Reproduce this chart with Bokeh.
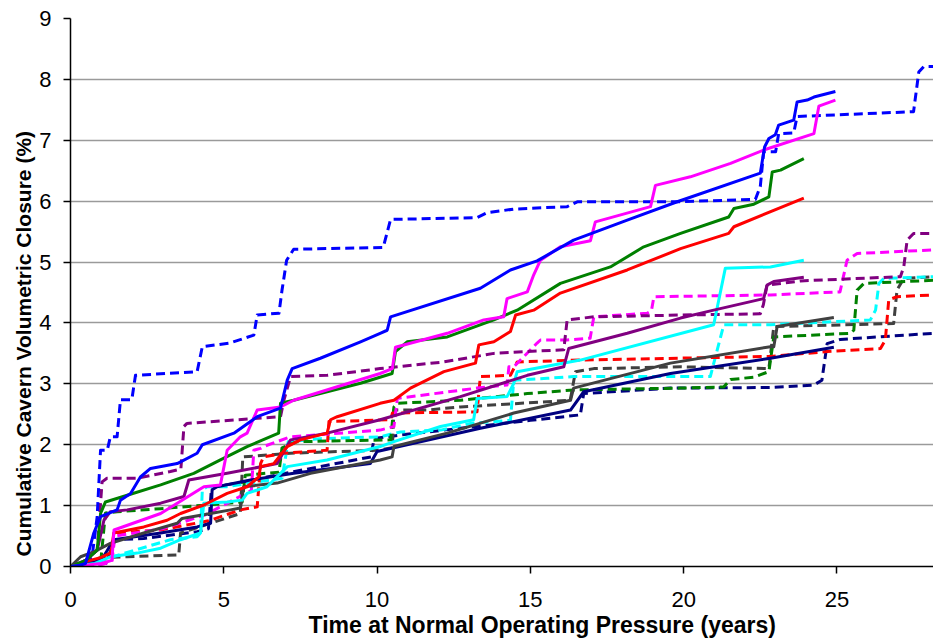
from bokeh.plotting import figure
from bokeh.models import Range1d, FixedTicker, Title
from bokeh.embed import file_html
from bokeh.resources import INLINE

# ---------------- data (years, % closure) ----------------
blue_solid_x = [0, 0.3, 0.49, 0.76, 0.98, 1.52, 1.63, 1.96, 2.28, 2.61, 3.48, 4.13, 4.3, 5.33, 6.09, 6.85, 7.07, 7.23, 8.15, 9.46, 10.1, 10.33, 10.44, 13.37, 14.35, 15.22, 16.41, 18.16, 19.79, 22.5, 22.64, 22.78, 22.99, 23.1, 23.59, 23.7, 24.03, 24.25, 24.95]
blue_solid_y = [0, 0.02, 0.05, 0.55, 0.82, 0.93, 1.09, 1.2, 1.47, 1.61, 1.69, 1.86, 2.0, 2.19, 2.46, 2.6, 3.06, 3.25, 3.42, 3.69, 3.83, 3.88, 4.1, 4.57, 4.87, 5.02, 5.36, 5.69, 5.99, 6.46, 6.89, 7.03, 7.09, 7.25, 7.33, 7.63, 7.66, 7.71, 7.8]

blue_dash_x = [0, 0.5, 0.7, 0.87, 0.98, 1.2, 1.3, 1.52, 1.63, 2.0, 2.12, 4.13, 4.3, 5.2, 5.98, 6.09, 6.8, 6.9, 7.05, 7.28, 10.2, 10.44, 13.26, 13.59, 14.46, 16.2, 16.53, 19.79, 22.34, 22.5, 22.61, 23.0, 23.1, 23.59, 23.7, 27.5, 27.67, 27.83, 28.15]
blue_dash_y = [0, 0.1, 0.15, 0.82, 1.91, 1.91, 2.13, 2.13, 2.74, 2.74, 3.14, 3.2, 3.61, 3.67, 3.8, 4.13, 4.16, 4.54, 5.03, 5.21, 5.24, 5.7, 5.73, 5.81, 5.87, 5.91, 5.99, 5.99, 6.03, 6.24, 6.81, 6.81, 7.11, 7.12, 7.39, 7.47, 8.12, 8.21, 8.21]

magenta_solid_x = [0, 0.5, 1.0, 1.35, 1.42, 2.94, 4.35, 4.89, 5.11, 5.54, 5.76, 6.09, 6.85, 7.28, 10.1, 10.5, 10.6, 12.29, 13.48, 14.13, 14.24, 14.9, 15.11, 15.33, 15.98, 16.96, 17.12, 18.92, 19.08, 20.22, 21.53, 22.61, 24.25, 24.41, 24.95]
magenta_solid_y = [0, 0.02, 0.05, 0.1, 0.6, 0.87, 1.31, 1.34, 1.91, 2.13, 2.19, 2.57, 2.62, 2.73, 3.17, 3.25, 3.6, 3.83, 4.05, 4.1, 4.4, 4.51, 4.79, 5.03, 5.25, 5.35, 5.66, 5.91, 6.26, 6.4, 6.62, 6.84, 7.11, 7.56, 7.66]

green_solid_x = [0, 0.5, 0.87, 0.98, 1.14, 1.85, 2.94, 4.02, 4.89, 5.76, 6.79, 6.85, 7.28, 9.46, 10.49, 10.6, 10.98, 12.29, 13.81, 14.57, 15.98, 17.61, 18.7, 19.9, 21.47, 21.64, 22.29, 22.78, 22.89, 23.16, 23.92]
green_solid_y = [0, 0.1, 0.27, 0.87, 1.06, 1.17, 1.34, 1.53, 1.75, 1.97, 2.19, 2.68, 2.73, 3.01, 3.17, 3.53, 3.69, 3.77, 4.05, 4.21, 4.65, 4.92, 5.25, 5.47, 5.74, 5.88, 5.95, 6.07, 6.48, 6.51, 6.7]

red_solid_x = [0, 0.5, 1.0, 1.3, 1.36, 1.41, 2.39, 3.15, 3.59, 4.35, 5.11, 5.76, 6.14, 6.2, 6.63, 7.07, 7.5, 8.37, 8.48, 8.7, 10.1, 10.55, 11.09, 12.18, 13.21, 13.32, 13.81, 14.35, 14.52, 15.11, 15.98, 18.16, 19.9, 21.47, 21.64, 23.92]
red_solid_y = [0, 0.08, 0.15, 0.22, 0.33, 0.55, 0.65, 0.76, 0.87, 1.01, 1.2, 1.31, 1.47, 1.64, 1.69, 1.97, 2.08, 2.19, 2.41, 2.46, 2.68, 2.73, 2.93, 3.2, 3.34, 3.64, 3.69, 3.86, 4.13, 4.21, 4.49, 4.87, 5.22, 5.47, 5.58, 6.05]

cyan_solid_x = [0, 0.8, 1.3, 2.17, 2.94, 3.59, 4.24, 4.35, 5.11, 5.6, 5.76, 6.41, 7.07, 8.37, 10.1, 10.55, 12.07, 13.15, 13.26, 14.24, 14.46, 14.57, 16.63, 20.98, 21.36, 22.83, 23.92]
cyan_solid_y = [0, 0.05, 0.16, 0.22, 0.3, 0.44, 0.55, 1.04, 1.06, 1.09, 1.2, 1.31, 1.64, 1.75, 1.97, 2.05, 2.3, 2.41, 2.76, 2.79, 3.01, 3.2, 3.39, 3.97, 4.9, 4.92, 5.03]

purple_solid_x = [0, 0.5, 0.87, 1.09, 1.3, 1.85, 2.94, 3.7, 3.86, 5.11, 6.74, 7.18, 8.37, 10.1, 12.72, 14.9, 16.09, 16.25, 18.16, 19.9, 20.98, 22.61, 22.72, 22.94, 23.92]
purple_solid_y = [0, 0.1, 0.27, 0.76, 0.9, 0.93, 1.04, 1.15, 1.42, 1.53, 1.69, 2.08, 2.19, 2.41, 2.79, 3.14, 3.28, 3.58, 3.83, 4.08, 4.21, 4.4, 4.62, 4.68, 4.75]

gray_solid_x = [0, 0.33, 0.76, 1.3, 2.39, 3.48, 3.64, 4.57, 5.22, 5.54, 5.65, 6.74, 7.83, 10.1, 10.49, 10.55, 12.29, 14.46, 16.31, 16.41, 19.57, 22.83, 22.94, 23.05, 24.9]
gray_solid_y = [0, 0.16, 0.24, 0.38, 0.55, 0.71, 0.79, 0.87, 0.93, 0.96, 1.31, 1.37, 1.53, 1.75, 1.8, 1.97, 2.19, 2.52, 2.73, 2.93, 3.34, 3.61, 3.61, 3.94, 4.09]

navy_solid_x = [0, 0.5, 1.0, 1.41, 2.94, 4.13, 4.57, 4.62, 4.78, 5.87, 7.28, 9.78, 10.0, 13.37, 16.31, 16.74, 19.57, 22.83, 24.9]
navy_solid_y = [0, 0.05, 0.1, 0.44, 0.55, 0.65, 0.71, 1.26, 1.31, 1.42, 1.53, 1.69, 1.89, 2.27, 2.57, 2.87, 3.17, 3.42, 3.6]

purple_dash_x = [0, 0.5, 0.87, 1.03, 1.19, 2.17, 3.26, 3.6, 3.7, 3.8, 5.98, 6.85, 6.96, 7.18, 8.37, 10.1, 12.18, 13.81, 14.9, 16.09, 16.2, 17.07, 19.9, 22.5, 22.6, 22.72, 23.81, 27.07, 27.18, 27.29, 27.5, 28.15]
purple_dash_y = [0, 0.1, 0.27, 1.39, 1.45, 1.45, 1.56, 1.6, 2.3, 2.35, 2.43, 2.46, 2.73, 3.12, 3.14, 3.25, 3.36, 3.5, 3.53, 3.56, 4.05, 4.1, 4.13, 4.15, 4.3, 4.62, 4.69, 4.76, 4.92, 5.36, 5.47, 5.47]

magenta_dash_x = [0, 1.0, 1.35, 1.45, 3.0, 4.4, 5.9, 5.98, 6.2, 6.3, 7.18, 10.1, 10.55, 10.66, 13.26, 14.24, 14.3, 14.46, 15.22, 15.33, 16.2, 16.95, 17.07, 18.81, 18.95, 19.03, 22.83, 25.1, 25.33, 25.66, 28.15]
magenta_dash_y = [0, 0.03, 0.08, 0.5, 0.62, 0.85, 1.25, 1.91, 1.94, 1.97, 2.13, 2.24, 2.3, 2.76, 2.93, 2.98, 3.28, 3.28, 3.67, 3.72, 3.72, 3.75, 4.1, 4.16, 4.2, 4.43, 4.46, 4.51, 5.03, 5.14, 5.2]

red_dash_x = [0, 0.5, 1.35, 1.41, 2.94, 4.5, 5.54, 6.09, 6.2, 6.3, 6.96, 8.37, 8.43, 10.44, 10.5, 13.26, 13.37, 14.35, 14.57, 16.63, 22.83, 24.68, 26.42, 26.58, 26.69, 26.96, 28.15]
red_dash_y = [0, 0.05, 0.15, 0.55, 0.6, 0.75, 0.93, 0.98, 1.69, 1.8, 1.86, 1.91, 2.38, 2.41, 2.52, 2.54, 3.12, 3.14, 3.36, 3.39, 3.45, 3.53, 3.58, 3.72, 4.38, 4.43, 4.46]

green_dash_x = [0, 0.5, 1.0, 1.14, 1.52, 2.94, 4.46, 5.11, 5.6, 5.7, 6.8, 6.9, 7.39, 10.44, 10.55, 10.66, 12.72, 14.9, 16.41, 19.9, 21.31, 21.53, 22.29, 22.78, 22.94, 25.44, 25.55, 25.66, 25.88, 28.15]
green_dash_y = [0, 0.05, 0.15, 0.88, 0.9, 0.95, 1.01, 1.04, 1.06, 1.5, 1.55, 1.95, 2.05, 2.08, 2.62, 2.68, 2.73, 2.84, 2.9, 2.93, 2.95, 3.07, 3.11, 3.2, 3.77, 3.83, 3.88, 4.54, 4.65, 4.7]

cyan_dash_x = [0, 0.8, 1.3, 3.26, 4.13, 4.24, 4.3, 4.46, 5.1, 6.9, 7.1, 8.15, 10.1, 10.76, 12.07, 13.05, 14.35, 14.46, 15.55, 16.41, 20.87, 21.31, 22.83, 26.09, 26.26, 26.37, 26.53, 28.15]
cyan_dash_y = [0, 0.05, 0.15, 0.44, 0.49, 0.55, 1.26, 1.31, 1.31, 1.45, 2.05, 2.1, 2.13, 2.21, 2.24, 2.35, 2.4, 3.06, 3.09, 3.12, 3.12, 3.97, 3.97, 4.05, 4.21, 4.65, 4.73, 4.76]

gray_dash_x = [0, 0.33, 1.3, 1.85, 3.48, 3.53, 3.59, 4.5, 5.54, 5.62, 7.18, 10.0, 10.5, 10.55, 11.63, 12.72, 16.3, 16.47, 17.07, 19.9, 22.78, 22.94, 26.85, 26.96, 27.18, 28.15]
gray_dash_y = [0, 0.05, 0.15, 0.16, 0.19, 0.19, 0.55, 0.7, 0.87, 1.8, 1.86, 1.91, 1.95, 2.57, 2.57, 2.62, 2.73, 3.2, 3.25, 3.28, 3.25, 3.94, 3.99, 4.54, 4.73, 4.76]

navy_dash_x = [0, 0.5, 1.15, 1.45, 2.39, 4.13, 4.5, 4.6, 5.65, 7.2, 9.8, 9.9, 10.76, 12.72, 15.0, 16.63, 16.74, 19.57, 22.83, 24.25, 24.51, 24.68, 25.11, 28.15]
navy_dash_y = [0, 0.02, 0.05, 0.44, 0.46, 0.57, 0.62, 1.3, 1.39, 1.55, 1.8, 2.1, 2.16, 2.27, 2.4, 2.49, 2.84, 2.93, 2.94, 2.98, 3.06, 3.66, 3.73, 3.83]

x_ticks = [0, 5, 10, 15, 20, 25]
y_ticks = [0, 1, 2, 3, 4, 5, 6, 7, 8, 9]
x_label = "Time at Normal Operating Pressure (years)"
y_label = "Cumulative Cavern Volumetric Closure (%)"

# ---------------- figure ----------------
p = figure(width=933, height=641, output_backend="svg", toolbar_location=None,
           x_range=Range1d(0, 28.15), y_range=Range1d(0, 9),
           min_border_left=70, min_border_right=0, min_border_top=18, min_border_bottom=75)
p.outline_line_color = None
p.background_fill_color = "white"
p.border_fill_color = "white"

p.xgrid.grid_line_color = None
p.ygrid.grid_line_color = "#9a9a9a"
p.ygrid.grid_line_width = 1.5

for ax in (p.xaxis, p.yaxis):
    ax.axis_line_color = "black"
    ax.axis_line_width = 1.5
    ax.major_tick_line_color = "black"
    ax.major_tick_line_width = 1.5
    ax.major_tick_out = 7
    ax.major_tick_in = 0
    ax.minor_tick_line_color = None
    ax.major_label_text_font = "Liberation Sans"
    ax.major_label_text_font_size = "22px"
    ax.major_label_text_color = "black"

p.xaxis.ticker = FixedTicker(ticks=x_ticks)
p.yaxis.ticker = FixedTicker(ticks=y_ticks)
p.xaxis.major_label_standoff = 18
p.yaxis.major_label_standoff = 12

# axis titles, placed off-centre as in the reference
p.add_layout(Title(text=x_label, align="left", offset=238, standoff=0,
                   text_font="Liberation Sans", text_font_style="bold",
                   text_font_size="23px", text_color="black"), "below")
p.add_layout(Title(text=y_label, align="left", offset=10, standoff=4,
                   text_font="Liberation Sans", text_font_style="bold",
                   text_font_size="21px", text_color="black"), "left")

dash = "9 5"
series = [
    (navy_dash_x, navy_dash_y, "#000080", dash),
    (gray_dash_x, gray_dash_y, "#404040", dash),
    (cyan_dash_x, cyan_dash_y, "#00FFFF", dash),
    (green_dash_x, green_dash_y, "#008000", dash),
    (red_dash_x, red_dash_y, "#FF0000", dash),
    (magenta_dash_x, magenta_dash_y, "#FF00FF", dash),
    (purple_dash_x, purple_dash_y, "#800080", dash),
    (blue_dash_x, blue_dash_y, "#0000FF", dash),
    (navy_solid_x, navy_solid_y, "#000080", "solid"),
    (gray_solid_x, gray_solid_y, "#404040", "solid"),
    (cyan_solid_x, cyan_solid_y, "#00FFFF", "solid"),
    (purple_solid_x, purple_solid_y, "#800080", "solid"),
    (red_solid_x, red_solid_y, "#FF0000", "solid"),
    (green_solid_x, green_solid_y, "#008000", "solid"),
    (magenta_solid_x, magenta_solid_y, "#FF00FF", "solid"),
    (blue_solid_x, blue_solid_y, "#0000FF", "solid"),
]
for xs, ys, col, ld in series:
    p.line(xs, ys, line_color=col, line_width=3, line_dash=ld, line_join="round")

open("out.html", "w").write(file_html(p, INLINE))
